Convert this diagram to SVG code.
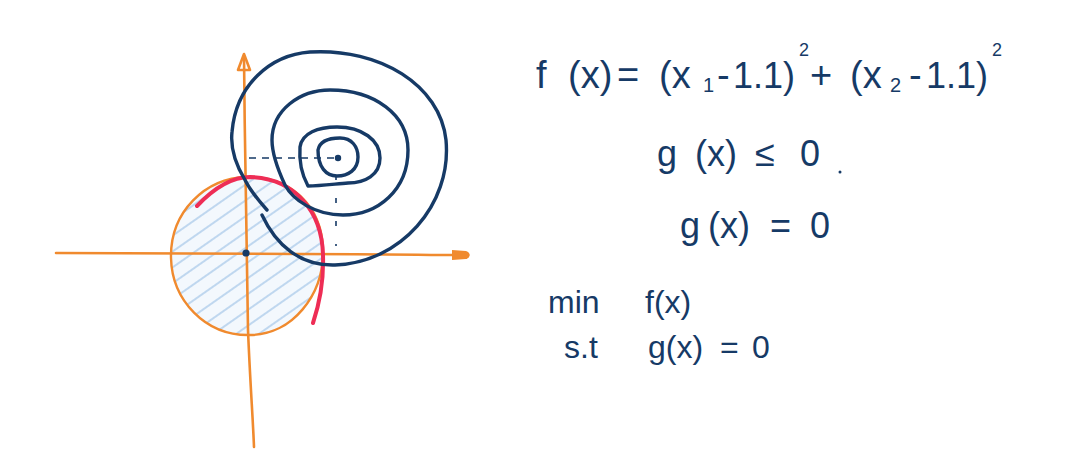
<svg xmlns="http://www.w3.org/2000/svg" width="1078" height="475" viewBox="0 0 1078 475">
<defs>
<style>
.ax{fill:none;stroke:#f08a2e;stroke-width:2.6;stroke-linecap:round;stroke-linejoin:round}
.orc{fill:url(#hatch);stroke:#f08a2e;stroke-width:2.4}
.red{fill:none;stroke:#ee2d55;stroke-width:4;stroke-linecap:round}
.nv{fill:none;stroke:#163a66;stroke-width:3.4;stroke-linecap:round;stroke-linejoin:round}
.dash{fill:none;stroke:#163a66;stroke-width:1.6;stroke-dasharray:7 6}
.t{font-family:"Liberation Sans","DejaVu Sans",sans-serif;fill:#163a66}
</style>
<pattern id="hatch" patternUnits="userSpaceOnUse" width="13" height="13" patternTransform="rotate(-35)">
<rect width="13" height="13" fill="#f3f8fd"/>
<line x1="0" y1="6" x2="13" y2="6" stroke="#a9c9ea" stroke-width="1.4"/>
</pattern>
</defs>
<rect width="1078" height="475" fill="#ffffff"/>

<g id="region">
<path class="orc" d="M247,177 C290,176 322,205 323,250 C324,295 292,335 250,335 C205,336 172,300 171,258 C170,212 205,178 247,177 Z"/>
</g>

<g id="connectors">
<path class="ax" d="M244,56 C245,150 246,250 248,330 C250,380 253,420 254,447"/>
<path class="ax" d="M238,70 L244,54 L250,70 Z" fill="none"/>
<path class="ax" d="M56,253 L300,254 C380,254 430,255 456,255"/>
<path d="M452,250 L466,251 C471,253 471,257 466,259 L452,260 Z" fill="#f08a2e"/>
<path class="dash" d="M249,158 L334,158"/>
<path class="dash" d="M336,175 L336,246" style="stroke-dasharray:5 18"/>
</g>

<g id="constraint">
<path class="red" d="M197,206 C215,187 232,177 250,177 C295,178 322,212 323,255 C324,285 318,308 313,323"/>
</g>

<g id="contours">
<path class="nv" d="M267,210 C258,200 250,190 245,180 C236,165 230,150 232,132 C236,85 270,55 310,52 C380,48 440,85 446,140 C452,205 400,263 335,265 C300,266 276,245 262,215"/>
<path class="nv" d="M272,140 C272,110 300,90 330,90 C375,90 408,115 408,150 C408,190 378,215 343,215 C315,215 293,200 285,185 C278,170 272,155 272,140 Z"/>
<path class="nv" d="M300,147 C302,133 318,127 337,127 C362,127 380,140 380,158 C380,175 365,183 348,183 C335,184 320,186 308,186 C302,175 299,160 300,147 Z"/>
<path class="nv" d="M318,150 C320,140 330,138 340,138 C352,138 358,147 358,157 C358,170 348,176 337,176 C326,176 318,167 318,150 Z"/>
<circle cx="338" cy="158" r="3.2" fill="#163a66"/>
</g>

<g id="origin">
<circle cx="246" cy="253" r="3.6" fill="#163a66"/>
</g>

<g id="objective">
<text class="t" font-size="38"><tspan x="536" y="88">f</tspan><tspan x="568" y="88">(x)</tspan><tspan x="617" y="88">=</tspan><tspan x="659" y="88">(x</tspan><tspan x="703" y="92" font-size="20">1</tspan><tspan x="717" y="88">-</tspan><tspan x="733" y="88" font-size="36">1.1)</tspan><tspan x="799" y="56" font-size="18">2</tspan><tspan x="810" y="88">+</tspan><tspan x="850" y="88">(x</tspan><tspan x="890" y="92" font-size="20">2</tspan><tspan x="909" y="88">-</tspan><tspan x="926" y="88" font-size="36">1.1)</tspan><tspan x="992" y="56" font-size="18">2</tspan></text>
</g>

<g id="ineq">
<text class="t" font-size="36"><tspan x="657" y="166">g</tspan><tspan x="695" y="166">(x)</tspan><tspan x="755" y="166">≤</tspan><tspan x="800" y="166">0</tspan></text>
<circle cx="840" cy="172" r="1.5" fill="#163a66"/>
</g>

<g id="eq">
<text class="t" font-size="36"><tspan x="680" y="238">g</tspan><tspan x="708" y="238">(x)</tspan><tspan x="770" y="238">=</tspan><tspan x="810" y="238">0</tspan></text>
</g>

<g id="problem">
<text class="t" font-size="32"><tspan x="548" y="313">min</tspan><tspan x="645" y="313">f(x)</tspan></text>
<text class="t" font-size="32"><tspan x="564" y="358">s.t</tspan><tspan x="648" y="358">g(x)</tspan><tspan x="720" y="358">=</tspan><tspan x="752" y="358">0</tspan></text>
</g>
</svg>
